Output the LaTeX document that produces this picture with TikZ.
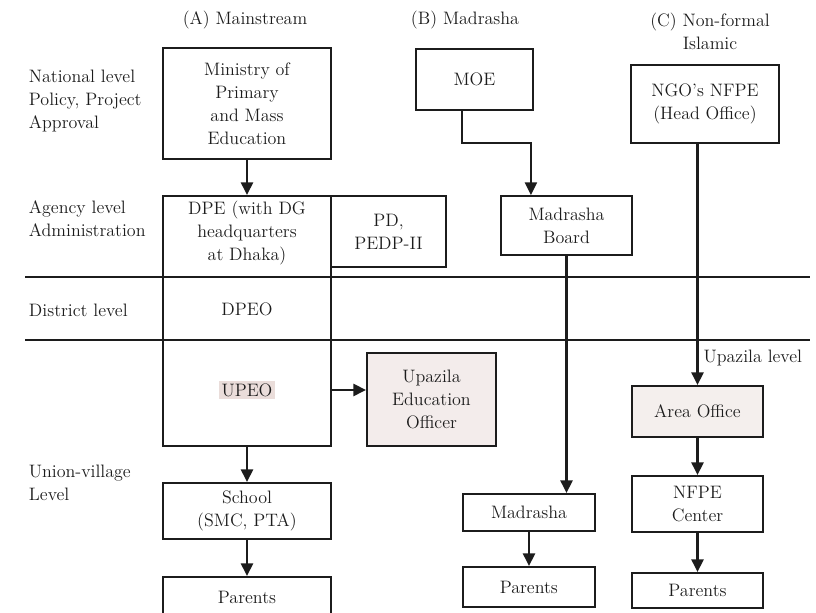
\documentclass[tikz,border=0pt]{standalone}
\usetikzlibrary{arrows.meta}
\definecolor{ink}{HTML}{1C1C1C}
\definecolor{smudge}{HTML}{EADDDA}
\definecolor{tint}{HTML}{F4EFED}

\tikzset{
  unit/.style={draw=ink,line width=1.3pt,align=center,inner sep=0pt},
  flow/.style={-{Triangle[length=9pt,width=8.5pt]},line width=1.6pt,draw=ink},
  level/.style={align=left,anchor=west},
  divider/.style={line width=1.1pt,draw=ink},
}

\begin{document}
\begin{tikzpicture}[font={\fontsize{12.8}{16.4}\selectfont},color=ink]
  \useasboundingbox (0,0) rectangle (20.4,15.325);

  % Column headings.
  \node (headA) at (6.125,14.825) {(A) Mainstream};
  \node (headB) at (11.625,14.825) {(B) Madrasha};
  \node[align=center] (headC) at (17.75,14.54) {(C) Non-formal\\Islamic};

  % Levels on the left.
  \node[level] (natl) at (0.6,12.8) {National level\\Policy, Project\\Approval};
  \node[level] (agency) at (0.6,9.85) {Agency level\\Administration};
  \node[level] (district) at (0.6,7.575) {District level};
  \node[level] (union) at (0.6,3.2625) {Union-village\\Level};

  \draw[divider] (0.625,8.4) -- (20.25,8.4);
  \draw[divider] (0.625,6.825) -- (20.25,6.825);
  \node[anchor=east] (upazila) at (20.175,6.375) {Upazila level};

  % (A) Mainstream.
  \node[unit,minimum width=4.2cm,minimum height=2.775cm] (mopme)
    at (6.175,12.7375) {Ministry of\\Primary\\and Mass\\Education};
  \node[unit,minimum width=4.2cm,minimum height=6.25cm] (mainbox)
    at (6.175,7.3) {};
  \node[align=center] (dpe) at (6.175,9.5)
    {DPE (with DG\\headquarters\\at Dhaka)};
  \node (dpeo) at (6.175,7.6) {DPEO};
  \node[fill=smudge,inner sep=2pt] (upeo) at (6.175,5.575) {UPEO};
  \node[unit,minimum width=2.875cm,minimum height=1.775cm] (pd)
    at (9.7125,9.5375) {PD,\\PEDP-II};
  \node[unit,fill=smudge!55,minimum width=3.225cm,minimum height=2.325cm] (ueo)
    at (10.7875,5.3375) {Upazila\\Education\\Officer};
  \node[unit,minimum width=4.2cm,minimum height=1.4cm] (school)
    at (6.175,2.55) {School\\(SMC, PTA)};
  \node[unit,minimum width=4.2cm,minimum height=1cm] (parentsA)
    at (6.175,0.4) {Parents};

  \draw[flow] (mopme) -- (mainbox);
  \draw[flow] (mainbox.east |- upeo) -- (ueo.west |- upeo);
  \draw[flow] (mainbox) -- (school);
  \draw[flow] (school) -- (parentsA);

  % (B) Madrasha.
  \node[unit,minimum width=2.925cm,minimum height=1.525cm] (moe)
    at (11.8625,13.3375) {MOE};
  \node[unit,minimum width=3.275cm,minimum height=1.475cm] (board)
    at (14.1625,9.6875) {Madrasha\\Board};
  \node[unit,minimum width=3.3cm,minimum height=0.925cm] (madrasha)
    at (13.225,2.5125) {Madrasha};
  \node[unit,minimum width=3.3cm,minimum height=1cm] (parentsB)
    at (13.22,0.65) {Parents};

  \draw[flow] ([xshift=-3.1mm]moe.south) -- ++(0,-0.8)
    -| ([xshift=-8.9mm]board.north);
  \draw[flow] (board.south) -- (board.south |- madrasha.north);
  \draw[flow] (madrasha.south) -- (madrasha.south |- parentsB.north);

  % (C) Non-formal Islamic.
  \node[unit,minimum width=3.7cm,minimum height=1.95cm] (ngo)
    at (17.625,12.725) {NGO's NFPE\\(Head Office)};
  \node[unit,fill=tint,minimum width=3.275cm,minimum height=1.275cm] (area)
    at (17.4375,5.0375) {Area Office};
  \node[unit,minimum width=3.275cm,minimum height=1.4cm] (nfpe)
    at (17.4375,2.725) {NFPE\\Center};
  \node[unit,minimum width=3.275cm,minimum height=0.875cm] (parentsC)
    at (17.4375,0.5625) {Parents};

  \draw[flow] (area.north |- ngo.south) -- (area.north);
  \draw[flow] (area) -- (nfpe);
  \draw[flow] (nfpe) -- (parentsC);
\end{tikzpicture}
\end{document}
